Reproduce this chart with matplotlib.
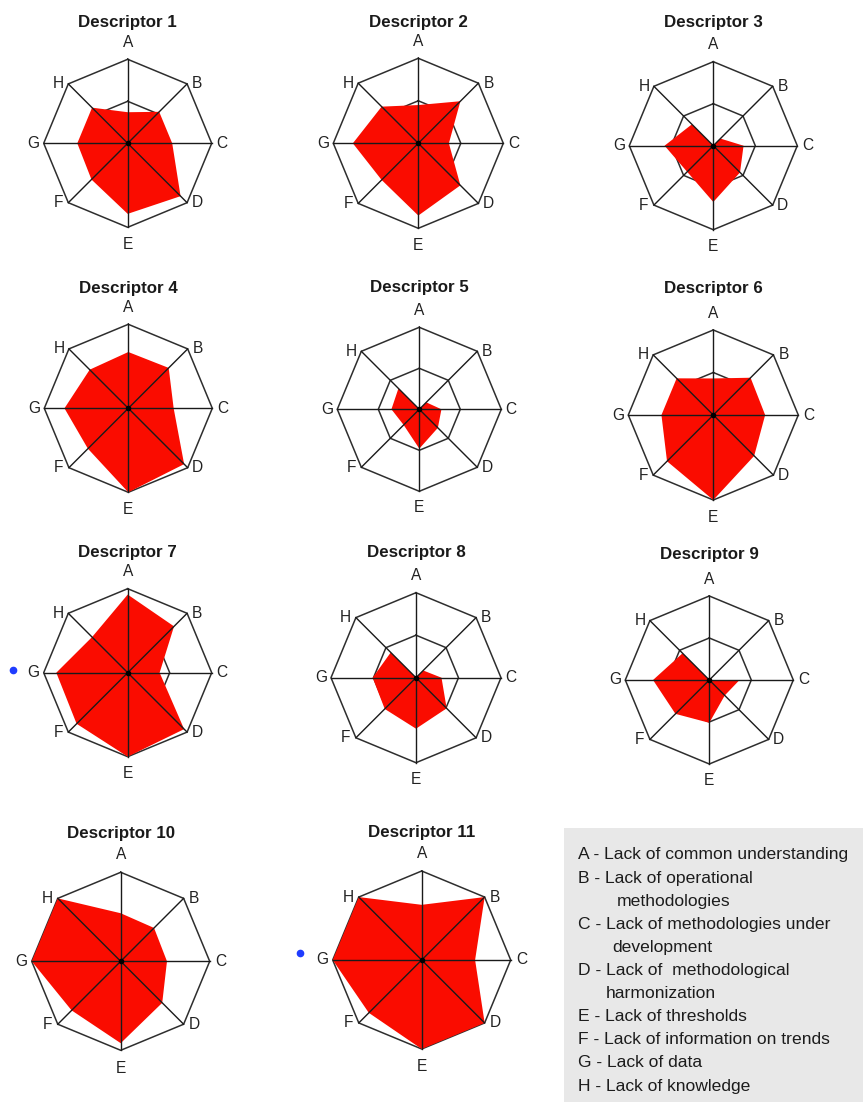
import numpy as np
import matplotlib.pyplot as plt
from matplotlib.patches import Rectangle

plt.rcParams['font.family'] = ['Liberation Sans', 'DejaVu Sans']

# axis letters, clockwise from the top
axis_labels = ['A', 'B', 'C', 'D', 'E', 'F', 'G', 'H']

# scores per descriptor, scaled so the outer ring is 1
descriptor_scores = {
    'Descriptor 1':  [0.37, 0.53, 0.53, 0.89, 0.84, 0.61, 0.60, 0.60],
    'Descriptor 2':  [0.45, 0.70, 0.36, 0.70, 0.85, 0.61, 0.77, 0.61],
    'Descriptor 3':  [0.00, 0.12, 0.36, 0.45, 0.67, 0.44, 0.58, 0.36],
    'Descriptor 4':  [0.67, 0.68, 0.54, 0.94, 1.00, 0.68, 0.76, 0.65],
    'Descriptor 5':  [0.00, 0.12, 0.27, 0.32, 0.48, 0.27, 0.34, 0.36],
    'Descriptor 6':  [0.43, 0.62, 0.61, 0.68, 1.00, 0.77, 0.61, 0.61],
    'Descriptor 7':  [0.93, 0.78, 0.38, 0.95, 1.00, 0.86, 0.85, 0.60],
    'Descriptor 8':  [0.00, 0.12, 0.30, 0.51, 0.60, 0.52, 0.51, 0.42],
    'Descriptor 9':  [0.00, 0.00, 0.36, 0.26, 0.51, 0.57, 0.67, 0.45],
    'Descriptor 10': [0.54, 0.53, 0.52, 0.66, 0.92, 0.78, 1.00, 1.00],
    'Descriptor 11': [0.62, 1.00, 0.60, 1.00, 1.00, 0.84, 1.00, 1.00],
}

# legend lines: (indent in px, text)
legend_lines = [
    (0, 'A - Lack of common understanding'),
    (0, 'B - Lack of operational'),
    (39, 'methodologies'),
    (0, 'C - Lack of methodologies under'),
    (34, 'development'),
    (0, 'D - Lack of  methodological'),
    (28, 'harmonization'),
    (0, 'E - Lack of thresholds'),
    (0, 'F - Lack of information on trends'),
    (0, 'G - Lack of data'),
    (0, 'H - Lack of knowledge'),
]

# stray blue points beside descriptors 7 and 11
blue_points = {'Descriptor 7': (-1.37, 0.03), 'Descriptor 11': (-1.37, 0.08)}

W, H = 863, 1102
# chart centres, radius and title baseline, in pixels
layout = [
    (127.7, 143.3, 84, 23), (418.3, 143.3, 85, 23), (713.3, 145.7, 84, 23),
    (128.3, 408.3, 84, 288), (419.3, 409.3, 82, 288), (713.3, 415.0, 85, 288),
    (127.7, 672.7, 84, 553), (416.0, 677.7, 85, 553), (709.3, 680.0, 84, 554),
    (120.7, 961.3, 89, 833), (421.7, 960.0, 89, 833),
]

fig = plt.figure(figsize=(W / 100, H / 100), dpi=100)
fig.patch.set_facecolor('white')

angles = np.deg2rad(90 - 45 * np.arange(8))
cx_unit = np.cos(angles)
cy_unit = np.sin(angles)
L = 1.6

for (name, scores), (cx, cy, r, ty) in zip(descriptor_scores.items(), layout):
    s = 2 * L * r
    ax = fig.add_axes([(cx - s / 2) / W, 1 - (cy + s / 2) / H, s / W, s / H])
    ax.set_xlim(-L, L)
    ax.set_ylim(-L, L)
    ax.set_aspect('equal')
    ax.axis('off')

    for ring in (0.5, 1.0):
        ax.plot(np.append(cx_unit, cx_unit[0]) * ring,
                np.append(cy_unit, cy_unit[0]) * ring,
                color='#2e2e2e', lw=1.1, zorder=1)

    vals = np.array(scores)
    ax.fill(vals * cx_unit, vals * cy_unit, color='#fa0c00', lw=0, zorder=2)

    for x, y in zip(cx_unit, cy_unit):
        ax.plot([0, x], [0, y], color='#1a1a1a', lw=1.0, zorder=3)
    ax.plot(0, 0, 'o', ms=3, color='black', zorder=4)

    for lab, x, y in zip(axis_labels, cx_unit, cy_unit):
        if abs(x) < 0.1:
            lx, ly = 0, y * 1.2
        else:
            lx, ly = x + 0.12 * np.sign(x), y
        ax.text(lx, ly, lab, ha='center', va='center', fontsize=11.2,
                color='#222222')

    ax.text(0, (cy - ty) / r, name, ha='center', va='center', fontsize=12.2,
            fontweight='bold', color='#1a1a1a')

    if name in blue_points:
        bx, by = blue_points[name]
        ax.plot(bx, by, 'o', ms=4.5, color='#1f3cff', clip_on=False)

# legend box in the lower right corner
fig.patches.append(Rectangle((564 / W, 0), 1 - 564 / W, 1 - 828 / H,
                             transform=fig.transFigure, facecolor='#e8e8e8',
                             edgecolor='none', zorder=0))
for i, (indent, text) in enumerate(legend_lines):
    fig.text((578 + indent) / W, 1 - (855 + 23.1 * i) / H, text,
             ha='left', va='center', fontsize=12.6, color='#1c1c1c')

fig.savefig('out.png', dpi=100)
